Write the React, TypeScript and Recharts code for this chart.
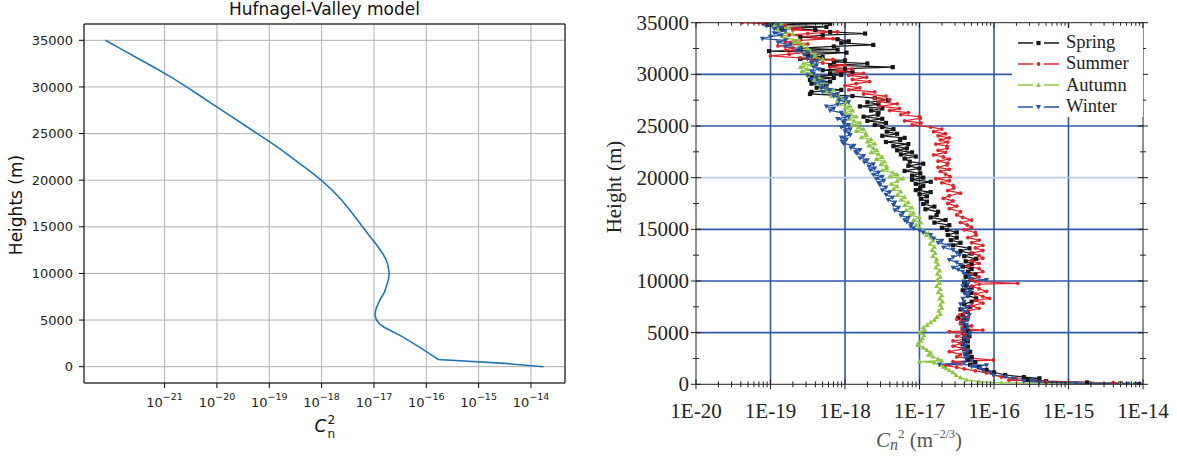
import React from "react"
import { LineChart, Line, XAxis, YAxis, CartesianGrid, ReferenceLine, Legend } from "recharts"

// Hufnagel-Valley profile, [height (m), log10 Cn2]
const hvProfile: [number, number][] = [
  [35000, -22.13], [34000, -21.81], [33000, -21.49], [32000, -21.17], [31000, -20.86],
  [30000, -20.58], [29000, -20.31], [28000, -20.04], [27000, -19.77], [26000, -19.5],
  [25000, -19.23], [24000, -18.96], [23000, -18.71], [22000, -18.47], [21000, -18.23],
  [20000, -18.01], [19000, -17.81], [18000, -17.64], [17000, -17.49], [16000, -17.35],
  [15000, -17.22], [14000, -17.08], [13000, -16.94], [12000, -16.82], [11500, -16.77],
  [11000, -16.74], [10500, -16.72], [10000, -16.71], [9500, -16.72], [9000, -16.74],
  [8500, -16.77], [8000, -16.8], [7500, -16.85], [7000, -16.9], [6500, -16.94],
  [6000, -16.97], [5500, -16.98], [5000, -16.95], [4600, -16.9], [4200, -16.8],
  [3700, -16.62], [3200, -16.45], [2600, -16.28], [2100, -16.13], [1400, -15.94],
  [775, -15.77], [350, -14.5], [0, -13.76],
]
const hvHeightTicks = [0, 5000, 10000, 15000, 20000, 25000, 30000, 35000]
const hvExpTicks = [-21, -20, -19, -18, -17, -16, -15, -14]

// seasonal measured profiles, [height (m), log10 Cn2]
const springProfile: [number, number][] = [
  [35000, -18.95], [34900, -18.2], [34800, -19.05], [34600, -18.25], [34450, -18.85], [34300, -18.4],
  [34100, -18.2], [33950, -17.73], [33800, -18.3], [33600, -18.6], [33400, -18.1], [33200, -17.95],
  [33050, -18.05], [32850, -17.62], [32700, -18.15], [32550, -18.6], [32400, -18.1], [32250, -19.02],
  [32100, -17.98], [31900, -18.5], [31700, -18.3], [31500, -18.6], [31350, -18.0], [31200, -18.15],
  [31050, -17.7], [30900, -18.2], [30700, -17.36], [30550, -18.0], [30400, -18.3], [30250, -17.9],
  [30100, -18.2], [29950, -18.05], [29800, -18.45], [29650, -18.15], [29450, -18.47], [29300, -18.2],
  [29100, -18.45], [28900, -18.25], [28700, -18.38], [28500, -18.05], [28300, -18.45], [28100, -18.47],
  [27900, -17.9], [27700, -17.6], [27500, -17.42], [27300, -17.7], [27100, -17.55], [26900, -17.8],
  [26700, -17.5], [26500, -17.65], [26300, -17.55], [26100, -17.56], [25900, -17.75], [25700, -17.5],
  [25500, -17.7], [25300, -17.45], [25100, -17.6], [24900, -17.5], [24700, -17.35], [24450, -17.44],
  [24250, -17.3], [24050, -17.5], [23850, -17.2], [23640, -17.26], [23450, -17.45], [23250, -17.15],
  [23050, -17.35], [22840, -17.17], [22650, -17.3], [22450, -17.1], [22250, -17.25], [22050, -17.05],
  [21850, -17.2], [21550, -17.13], [21350, -16.95], [21150, -17.15], [20900, -17.0], [20650, -17.2],
  [20420, -16.99], [20200, -17.1], [20000, -16.95], [19800, -17.1], [19600, -16.85], [19400, -17.05],
  [19200, -16.95], [19000, -16.99], [18800, -17.05], [18600, -16.85], [18400, -17.0], [18200, -16.9],
  [17950, -16.98], [17680, -16.9], [17450, -16.95], [17200, -16.8], [16950, -16.92], [16700, -16.75],
  [16390, -16.77], [16150, -16.85], [15900, -16.65], [15650, -16.8], [15400, -16.6], [15150, -16.7],
  [14940, -16.63], [14700, -16.5], [14450, -16.62], [14200, -16.5], [13950, -16.58], [13700, -16.45],
  [13450, -16.55], [13160, -16.33], [12900, -16.45], [12650, -16.3], [12400, -16.4], [12150, -16.24],
  [11900, -16.38], [11650, -16.3], [11400, -16.42], [11150, -16.3], [10900, -16.35], [10650, -16.25],
  [10400, -16.38], [10150, -16.3], [9900, -16.4], [9610, -16.37], [9350, -16.3], [9100, -16.42],
  [8850, -16.3], [8600, -16.35], [8320, -16.24], [8000, -16.3], [7750, -16.4], [7500, -16.32],
  [7250, -16.45], [7000, -16.35], [6710, -16.42], [6450, -16.48], [6200, -16.4], [5900, -16.44],
  [5650, -16.38], [5400, -16.42], [5150, -16.35], [4900, -16.4], [4650, -16.33], [4400, -16.4],
  [4150, -16.35], [3900, -16.42], [3650, -16.35], [3400, -16.4], [3150, -16.32], [2900, -16.38],
  [2650, -16.3], [2400, -16.35], [2150, -16.25], [1900, -16.32], [1650, -16.2], [1400, -16.1],
  [1150, -16.0], [900, -15.85], [700, -15.6], [580, -15.39], [450, -15.55], [300, -15.3],
  [180, -14.75], [80, -14.3], [20, -14.05],
]

const summerProfile: [number, number][] = [
  [35000, -19.38], [34900, -19.1], [34750, -18.8], [34600, -18.95], [34450, -18.6], [34300, -18.7],
  [34100, -18.1], [33950, -18.5], [33800, -18.75], [33600, -18.4], [33450, -18.16], [33300, -18.6],
  [33150, -18.8], [32950, -18.5], [32750, -18.9], [32550, -18.7], [32350, -18.8], [32150, -18.5],
  [31950, -18.75], [31780, -19.0], [31600, -18.6], [31450, -18.16], [31300, -18.45], [31100, -18.3],
  [30900, -18.0], [30700, -18.2], [30500, -17.9], [30300, -18.1], [30100, -17.75], [29900, -17.95],
  [29700, -17.71], [29500, -17.9], [29300, -17.67], [29100, -17.85], [28900, -18.0], [28700, -17.8],
  [28500, -17.95], [28300, -17.6], [28100, -17.75], [27900, -17.45], [27700, -17.6], [27550, -17.4],
  [27350, -17.55], [27150, -17.3], [26900, -17.53], [26700, -17.27], [26500, -17.4], [26300, -17.15],
  [26100, -17.25], [25900, -17.0], [25740, -16.99], [25500, -17.2], [25300, -16.98], [25100, -17.1],
  [24900, -16.85], [24700, -16.7], [24450, -16.81], [24250, -16.65], [24050, -16.75], [23850, -16.6],
  [23650, -16.72], [23450, -16.62], [23250, -16.78], [23050, -16.63], [22840, -16.63], [22650, -16.75],
  [22450, -16.65], [22200, -16.81], [22000, -16.68], [21800, -16.6], [21600, -16.75], [21400, -16.62],
  [21230, -16.63], [21000, -16.75], [20800, -16.6], [20600, -16.72], [20350, -16.65], [20100, -16.59],
  [19900, -16.78], [19700, -16.6], [19500, -16.7], [19250, -16.55], [19000, -16.54], [18750, -16.62],
  [18500, -16.45], [18250, -16.6], [18000, -16.68], [17750, -16.55], [17500, -16.62], [17250, -16.5],
  [17000, -16.6], [16700, -16.45], [16390, -16.5], [16150, -16.42], [15900, -16.3], [15650, -16.45],
  [15420, -16.36], [15200, -16.3], [14950, -16.4], [14700, -16.25], [14450, -16.24], [14200, -16.35],
  [13950, -16.2], [13700, -16.3], [13450, -16.15], [13200, -16.25], [12950, -16.15], [12700, -16.3],
  [12450, -16.2], [12200, -16.15], [11950, -16.3], [11700, -16.2], [11450, -16.35], [11200, -16.2],
  [10900, -16.15], [10650, -16.3], [10400, -16.2], [10150, -16.3], [9950, -16.25], [9770, -15.68],
  [9700, -16.2], [9500, -16.3], [9250, -16.2], [9000, -16.1], [8750, -16.25], [8500, -16.15],
  [8320, -16.06], [8100, -16.25], [7850, -16.15], [7600, -16.3], [7350, -16.2], [7100, -16.35],
  [6900, -16.4], [6710, -16.46], [6500, -16.35], [6300, -16.5], [6100, -16.4], [5900, -16.45],
  [5650, -16.3], [5400, -16.42], [5250, -16.15], [5100, -16.6], [4900, -16.4], [4650, -16.5],
  [4400, -16.35], [4200, -16.55], [3950, -16.45], [3700, -16.55], [3450, -16.4], [3160, -16.6],
  [2900, -16.45], [2650, -16.5], [2350, -16.01], [2200, -16.55], [2000, -16.45], [1800, -16.65],
  [1650, -16.5], [1500, -16.4], [1300, -16.25], [1100, -16.1], [900, -16.0], [700, -15.9],
  [550, -15.7], [400, -15.8], [250, -15.3], [150, -14.4], [50, -14.1],
]

const autumnProfile: [number, number][] = [
  [35000, -18.91], [34850, -18.85], [34700, -18.95], [34500, -18.75], [34300, -18.9], [34100, -18.8],
  [33900, -18.7], [33700, -18.85], [33500, -18.78], [33300, -18.62], [33100, -18.7], [32900, -18.55],
  [32700, -18.62], [32500, -18.5], [32300, -18.47], [32100, -18.55], [31900, -18.4], [31700, -18.45],
  [31500, -18.3], [31300, -18.38], [31050, -18.56], [30900, -18.45], [30700, -18.6], [30500, -18.5],
  [30300, -18.58], [30100, -18.45], [29900, -18.5], [29700, -18.35], [29500, -18.42], [29300, -18.3],
  [29100, -18.38], [28900, -18.24], [28700, -18.33], [28500, -18.15], [28300, -18.25], [28100, -18.1],
  [27900, -18.18], [27700, -18.05], [27500, -18.1], [27300, -17.98], [27100, -18.08], [26900, -17.93],
  [26700, -18.0], [26500, -17.9], [26300, -18.0], [26100, -17.92], [25900, -17.85], [25700, -17.95],
  [25500, -17.88], [25300, -17.8], [25100, -17.9], [24900, -17.82], [24700, -17.75], [24500, -17.85],
  [24300, -17.72], [24130, -17.71], [23900, -17.78], [23700, -17.65], [23500, -17.7], [23300, -17.6],
  [23100, -17.68], [22850, -17.62], [22650, -17.57], [22450, -17.65], [22250, -17.55], [22000, -17.5],
  [21800, -17.58], [21550, -17.47], [21300, -17.52], [21100, -17.44], [20900, -17.44], [20700, -17.5],
  [20500, -17.36], [20300, -17.3], [20100, -17.4], [19900, -17.22], [19700, -17.3], [19400, -17.38],
  [19150, -17.3], [18900, -17.35], [18650, -17.25], [18320, -17.3], [18100, -17.2], [17850, -17.25],
  [17600, -17.15], [17350, -17.2], [17100, -17.1], [16850, -17.18], [16600, -17.08], [16390, -17.13],
  [16150, -17.0], [15900, -17.08], [15650, -16.98], [15400, -17.05], [15100, -16.99], [14850, -16.95],
  [14600, -16.88], [14450, -16.91], [14200, -16.85], [13900, -16.82], [13600, -16.86], [13300, -16.8],
  [13000, -16.83], [12700, -16.79], [12400, -16.82], [12100, -16.77], [11870, -16.78], [11600, -16.75],
  [11300, -16.78], [11000, -16.73], [10700, -16.76], [10400, -16.72], [10100, -16.76], [9800, -16.73],
  [9500, -16.77], [9200, -16.72], [8900, -16.75], [8600, -16.7], [8300, -16.73], [8000, -16.69],
  [7700, -16.72], [7400, -16.7], [7100, -16.74], [6800, -16.72], [6500, -16.77], [6250, -16.8],
  [6000, -16.85], [5750, -16.9], [5500, -16.95], [5250, -16.93], [5000, -17.0], [4750, -16.94],
  [4450, -16.96], [4200, -16.98], [3950, -17.02], [3800, -17.02], [3550, -16.95], [3300, -16.9],
  [3050, -16.85], [2850, -16.88], [2670, -16.82], [2450, -16.75], [2300, -16.7], [2190, -17.0],
  [2100, -16.8], [1900, -16.72], [1700, -16.68], [1545, -16.64], [1350, -16.6], [1150, -16.55],
  [900, -16.51], [650, -16.45], [420, -16.37], [250, -16.2], [150, -15.9], [100, -14.3], [40, -14.15],
]

const winterProfile: [number, number][] = [
  [35000, -19.0], [34850, -18.9], [34700, -19.05], [34550, -18.85], [34400, -18.95], [34200, -18.8],
  [34000, -18.95], [33800, -18.85], [33650, -19.0], [33450, -19.11], [33300, -18.8], [33100, -18.9],
  [32900, -18.73], [32700, -18.8], [32500, -18.6], [32300, -18.65], [32100, -18.5], [31900, -18.55],
  [31700, -18.45], [31500, -18.5], [31300, -18.38], [31100, -18.45], [30900, -18.38], [30700, -18.42],
  [30500, -18.35], [30300, -18.45], [30100, -18.42], [29900, -18.5], [29700, -18.38], [29500, -18.45],
  [29300, -18.3], [29100, -18.4], [28900, -18.24], [28700, -18.32], [28500, -18.2], [28300, -18.3],
  [28100, -18.1], [27900, -18.15], [27700, -17.98], [27500, -18.08], [27300, -17.95], [27100, -18.1],
  [26900, -18.25], [26700, -18.15], [26500, -18.2], [26300, -18.05], [26100, -18.04], [25900, -17.95],
  [25700, -18.1], [25500, -18.0], [25300, -18.02], [25100, -17.95], [24900, -18.05], [24700, -17.93],
  [24500, -18.0], [24300, -17.95], [24130, -17.93], [23900, -18.05], [23700, -17.98], [23500, -18.04],
  [23320, -18.02], [23100, -17.88], [22900, -17.92], [22700, -17.8], [22500, -17.86], [22350, -17.84],
  [22100, -17.75], [21900, -17.8], [21700, -17.7], [21500, -17.74], [21300, -17.62], [21100, -17.68],
  [20900, -17.6], [20740, -17.66], [20500, -17.55], [20300, -17.62], [20100, -17.5], [19900, -17.58],
  [19700, -17.48], [19500, -17.55], [19290, -17.53], [19050, -17.45], [18800, -17.5], [18600, -17.4],
  [18350, -17.45], [18100, -17.36], [17850, -17.42], [17600, -17.33], [17360, -17.35], [17100, -17.28],
  [16850, -17.33], [16600, -17.22], [16350, -17.25], [16100, -17.15], [15900, -17.2], [15740, -17.17],
  [15500, -17.1], [15300, -17.12], [15100, -17.08], [14900, -17.0], [14700, -16.95], [14450, -16.85],
  [14130, -16.81], [13900, -16.7], [13700, -16.75], [13480, -16.6], [13250, -16.68], [13000, -16.55],
  [12750, -16.5], [12520, -16.46], [12300, -16.55], [12050, -16.6], [11800, -16.5], [11550, -16.45],
  [11300, -16.55], [11100, -16.48], [10900, -16.42], [10700, -16.4], [10500, -16.33], [10260, -16.33],
  [10100, -16.1], [9950, -16.4], [9700, -16.35], [9500, -16.42], [9290, -16.37], [9050, -16.32],
  [8800, -16.4], [8550, -16.35], [8300, -16.42], [8000, -16.4], [7750, -16.45], [7500, -16.35],
  [7250, -16.43], [7000, -16.38], [6710, -16.33], [6450, -16.4], [6200, -16.35], [5950, -16.42],
  [5740, -16.37], [5500, -16.35], [5250, -16.4], [5000, -16.32], [4770, -16.33], [4500, -16.4],
  [4250, -16.35], [4000, -16.42], [3750, -16.38], [3480, -16.42], [3250, -16.35], [3000, -16.4],
  [2750, -16.35], [2510, -16.38], [2300, -16.3], [2100, -16.4], [1930, -16.73], [1850, -16.1],
  [1700, -16.3], [1545, -16.19], [1350, -16.15], [1150, -16.05], [900, -16.01], [750, -15.85],
  [580, -15.74], [420, -15.48], [300, -15.6], [200, -15.39], [120, -14.9], [60, -14.2], [20, -14.1],
]

const seasonHeightTicks = [
  0, 2500, 5000, 7500, 10000, 12500, 15000, 17500, 20000, 22500, 25000, 27500, 30000, 32500, 35000,
]
const seasonExpTicks = [-20, -19, -18, -17, -16, -15, -14]
const seasonGridHeights = [5000, 10000, 15000, 25000, 30000]
const seasonGridExps = [-19, -18, -17, -16, -15]

type Shape = "square" | "circle" | "up" | "down"

const seasons: { name: string; color: string; shape: Shape; rows: [number, number][] }[] = [
  { name: "Spring", color: "#161616", shape: "square", rows: springProfile },
  { name: "Summer", color: "#e2232a", shape: "circle", rows: summerProfile },
  { name: "Autumn", color: "#8cc63e", shape: "up", rows: autumnProfile },
  { name: "Winter", color: "#2453a3", shape: "down", rows: winterProfile },
]

const toPoints = (rows: [number, number][]) => rows.map(([h, lg]) => ({ h, c: 10 ** lg }))

const SANS = "DejaVu Sans"
const SERIF = "Liberation Serif"

const HV_DOMAIN: [number, number] = [10 ** -22.54, 10 ** -13.35]
const R_TOP = 22.7
const R_RIGHT = 553

const Marker = ({ shape, color, cx, cy }: { shape: Shape; color: string; cx: number; cy: number }) => {
  if (shape === "square") return <rect x={cx - 2.1} y={cy - 2.1} width={4.2} height={4.2} fill={color} />
  if (shape === "circle") return <circle cx={cx} cy={cy} r={1.9} fill={color} />
  if (shape === "up")
    return <polygon points={`${cx},${cy - 2.7} ${cx - 2.5},${cy + 1.9} ${cx + 2.5},${cy + 1.9}`} fill={color} />
  return <polygon points={`${cx},${cy + 2.7} ${cx - 2.5},${cy - 1.9} ${cx + 2.5},${cy - 1.9}`} fill={color} />
}

const makeDot = (shape: Shape, color: string) => (props: any) => {
  if (props.cx == null || props.cy == null) return <g key={`d-${props.index}`} />
  return <Marker key={`d-${props.index}`} shape={shape} color={color} cx={props.cx} cy={props.cy} />
}

const HvExpTick = (props: any) => {
  const { x, y, payload } = props
  const exp = Math.round(Math.log10(payload.value))
  return (
    <g>
      <line x1={x} x2={x} y1={y} y2={y + 5} stroke="#000" />
      <text x={x} y={y + 24} textAnchor="middle" fontSize={13} fill="#222" fontFamily={SANS}>
        10
        <tspan dy={-7} fontSize={9.5}>{`\u2212${-exp}`}</tspan>
      </text>
    </g>
  )
}

const HvHeightTick = (props: any) => {
  const { x, y, payload } = props
  return (
    <g>
      <line x1={x - 5} x2={x} y1={y} y2={y} stroke="#000" />
      <text x={x - 11} y={y} dy="0.36em" textAnchor="end" fontSize={13} fill="#222" fontFamily={SANS}>
        {payload.value}
      </text>
    </g>
  )
}

const SeasonExpTick = (props: any) => {
  const { x, y, payload } = props
  const lg = Math.log10(payload.value)
  const major = Math.abs(lg - Math.round(lg)) < 1e-6
  const len = major ? 5 : 3
  return (
    <g>
      <line x1={x} x2={x} y1={y - len} y2={y + len} stroke="#222" />
      <line x1={x} x2={x} y1={R_TOP} y2={R_TOP + len} stroke="#222" />
      {major && (
        <text x={x} y={y + 34} textAnchor="middle" fontSize={21} fill="#222" fontFamily={SERIF}>
          {`1E${Math.round(lg)}`}
        </text>
      )}
    </g>
  )
}

const SeasonHeightTick = (props: any) => {
  const { x, y, payload } = props
  const major = payload.value % 5000 === 0
  const len = major ? 5 : 3
  return (
    <g>
      <line x1={x - len} x2={x + len} y1={y} y2={y} stroke="#222" />
      <line x1={R_RIGHT - len} x2={R_RIGHT + len} y1={y} y2={y} stroke="#222" />
      {major && (
        <text x={x - 7} y={y} dy="0.34em" textAnchor="end" fontSize={21} fill="#222" fontFamily={SERIF}>
          {payload.value}
        </text>
      )}
    </g>
  )
}

const SeasonLegend = () => (
  <div style={{ background: "#fff", paddingTop: 4, paddingLeft: 6 }}>
    {seasons.map((s) => (
      <div key={s.name} style={{ display: "flex", alignItems: "center", height: 21.3 }}>
        <svg width={41} height={12}>
          <line x1={0} x2={15} y1={6} y2={6} stroke={s.color} strokeWidth={1.5} />
          <Marker shape={s.shape} color={s.color} cx={20.5} cy={6} />
          <line x1={26} x2={41} y1={6} y2={6} stroke={s.color} strokeWidth={1.5} />
        </svg>
        <span style={{ fontFamily: SERIF, fontSize: 18.5, color: "#222", marginLeft: 7, lineHeight: "19px" }}>
          {s.name}
        </span>
      </div>
    ))}
  </div>
)

const abs = (style: React.CSSProperties): React.CSSProperties => ({ position: "absolute", whiteSpace: "nowrap", ...style })

export default function App() {
  const xTicksRight = seasonExpTicks.flatMap((e, i) =>
    i === seasonExpTicks.length - 1 ? [10 ** e] : [1, 2, 3, 4, 5, 6, 7, 8, 9].map((m) => m * 10 ** e)
  )

  return (
    <div style={{ position: "absolute", left: 0, top: 0, width: 1177, height: 457, background: "#fff", overflow: "hidden" }}>
      {/* model profile */}
      <div style={abs({ left: 0, top: 0 })}>
        <LineChart width={590} height={457} margin={{ top: 24, right: 25, bottom: 34, left: 24 }}>
          <CartesianGrid stroke="#b0b0b0" strokeWidth={1} />
          <XAxis
            dataKey="c"
            type="number"
            scale="log"
            domain={HV_DOMAIN}
            allowDataOverflow
            ticks={hvExpTicks.map((e) => 10 ** e)}
            interval={0}
            height={40}
            tickSize={0}
            tickMargin={0}
            tickLine={false}
            tick={<HvExpTick />}
            axisLine={{ stroke: "#000" }}
          />
          <YAxis
            type="number"
            domain={[-1750, 36750]}
            allowDataOverflow
            ticks={hvHeightTicks}
            interval={0}
            width={60}
            tickSize={0}
            tickMargin={0}
            tickLine={false}
            tick={<HvHeightTick />}
            axisLine={{ stroke: "#000" }}
          />
          <ReferenceLine y={36750} stroke="#000" />
          <ReferenceLine x={HV_DOMAIN[1]} stroke="#000" />
          <Line
            data={toPoints(hvProfile)}
            dataKey="h"
            type="linear"
            stroke="#1f77b4"
            strokeWidth={1.6}
            dot={false}
            activeDot={false}
            isAnimationActive={false}
          />
        </LineChart>
      </div>
      <div style={abs({ left: 84, width: 481, top: -1, textAlign: "center", fontFamily: SANS, fontSize: 17, lineHeight: "20px", color: "#111" })}>
        Hufnagel-Valley model
      </div>
      <div style={abs({ left: 16, top: 205, transform: "translate(-50%, -50%) rotate(-90deg)", fontFamily: SANS, fontSize: 17, color: "#111" })}>
        Heights (m)
      </div>
      <div style={abs({ left: 284, width: 82, top: 416, textAlign: "center", fontFamily: SANS, fontSize: 17, lineHeight: "20px", color: "#111" })}>
        <span style={{ fontStyle: "italic" }}>C</span>
        <span style={{ display: "inline-block", position: "relative", width: 9, height: 20, verticalAlign: "top" }}>
          <span style={{ position: "absolute", left: 1, top: -6, fontSize: 12 }}>2</span>
          <span style={{ position: "absolute", left: 1, top: 8, fontSize: 12 }}>n</span>
        </span>
      </div>

      {/* seasonal measurements */}
      <div style={abs({ left: 590, top: 0 })}>
        <LineChart width={587} height={457} margin={{ top: R_TOP, right: 34, bottom: 32.7, left: 46 }}>
          <XAxis
            dataKey="c"
            type="number"
            scale="log"
            domain={[1e-20, 1e-14]}
            allowDataOverflow
            ticks={xTicksRight}
            interval={0}
            height={40}
            tickSize={0}
            tickMargin={0}
            tickLine={false}
            tick={<SeasonExpTick />}
            axisLine={{ stroke: "#222" }}
          />
          <YAxis
            type="number"
            domain={[0, 35000]}
            allowDataOverflow
            ticks={seasonHeightTicks}
            interval={0}
            width={60}
            tickSize={0}
            tickMargin={0}
            tickLine={false}
            tick={<SeasonHeightTick />}
            axisLine={{ stroke: "#222" }}
          />
          {seasonGridExps.map((e) => (
            <ReferenceLine key={`gx${e}`} x={10 ** e} stroke="#3159a7" strokeWidth={1.6} />
          ))}
          {seasonGridHeights.map((h) => (
            <ReferenceLine key={`gy${h}`} y={h} stroke="#3159a7" strokeWidth={1.6} />
          ))}
          <ReferenceLine y={20000} stroke="#bccbe6" strokeWidth={1.6} />
          <ReferenceLine y={35000} stroke="#222" />
          <ReferenceLine x={1e-14} stroke="#222" />
          {seasons.map((s) => (
            <Line
              key={s.name}
              name={s.name}
              data={toPoints(s.rows)}
              dataKey="h"
              type="linear"
              stroke={s.color}
              strokeWidth={1.25}
              dot={makeDot(s.shape, s.color)}
              activeDot={false}
              isAnimationActive={false}
            />
          ))}
          <Legend
            layout="vertical"
            align="center"
            verticalAlign="middle"
            content={<SeasonLegend />}
            wrapperStyle={{ left: 422, top: 28, width: 131, height: 90 }}
          />
        </LineChart>
      </div>
      <div style={abs({ left: 614, top: 187, transform: "translate(-50%, -50%) rotate(-90deg)", fontFamily: SERIF, fontSize: 21, color: "#222" })}>
        Height (m)
      </div>
      <div style={abs({ left: 819, width: 200, top: 428, textAlign: "center", fontFamily: SERIF, fontSize: 21, lineHeight: "24px", color: "#555" })}>
        <span style={{ fontStyle: "italic" }}>C</span>
        <span style={{ fontStyle: "italic", fontSize: 16, position: "relative", top: 3 }}>n</span>
        <span style={{ fontSize: 13, position: "relative", top: -9 }}>2</span> (m
        <span style={{ fontSize: 12, position: "relative", top: -9 }}>{"\u22122/3"}</span>)
      </div>
    </div>
  )
}
